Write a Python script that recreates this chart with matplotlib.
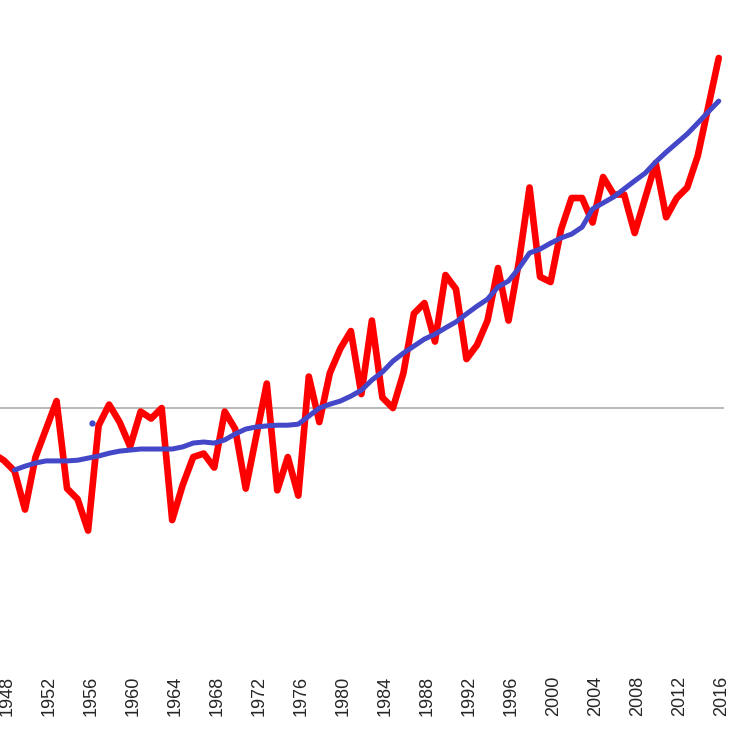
import matplotlib.pyplot as plt
import matplotlib.transforms as mtransforms

# annual values (red), deg C anomaly
years = list(range(1947, 2017))
annual = [
    -0.13, -0.15, -0.18, -0.29, -0.14, -0.06, 0.02, -0.23, -0.26, -0.35,
    -0.05, 0.01, -0.04, -0.11, -0.01, -0.03, 0.00, -0.32, -0.22, -0.14,
    -0.13, -0.17, -0.01, -0.06, -0.23, -0.08, 0.07, -0.235, -0.14, -0.25,
    0.09, -0.04, 0.10, 0.17, 0.22, 0.04, 0.25, 0.03, 0.00, 0.10,
    0.27, 0.30, 0.19, 0.38, 0.34, 0.14, 0.18, 0.25, 0.40, 0.25,
    0.42, 0.63, 0.375, 0.36, 0.51, 0.60, 0.60, 0.53, 0.66, 0.61,
    0.61, 0.50, 0.60, 0.70, 0.545, 0.60, 0.63, 0.72, 0.86, 1.00,
]

# smoothed trend (blue)
trend_years = list(range(1949, 2017))
trend = [
    -0.177, -0.166, -0.157, -0.151, -0.151, -0.151, -0.149, -0.143, -0.137, -0.129,
    -0.123, -0.120, -0.117, -0.117, -0.117, -0.117, -0.111, -0.100, -0.097, -0.100,
    -0.091, -0.074, -0.060, -0.054, -0.051, -0.049, -0.049, -0.046, -0.023, 0.000,
    0.011, 0.020, 0.034, 0.051, 0.080, 0.103, 0.134, 0.157, 0.177, 0.197,
    0.211, 0.229, 0.246, 0.269, 0.291, 0.311, 0.346, 0.363, 0.400, 0.443,
    0.454, 0.471, 0.486, 0.497, 0.517, 0.569, 0.586, 0.603, 0.626, 0.649,
    0.671, 0.703, 0.731, 0.757, 0.783, 0.814, 0.846, 0.877,
]

# stray blue point near 1956
stray_year = [1956.4]
stray_val = [-0.043]

tick_years = list(range(1948, 2017, 4))

fig = plt.figure(figsize=(7.45, 7.37), dpi=100)
ax = fig.add_axes([0, 72 / 737, 724 / 745, 635 / 737])

ax.axhline(0, color='#a6a6a6', lw=1.1, zorder=1)
ax.plot(years, annual, color='#ff0000', lw=4.8,
        solid_joinstyle='round', solid_capstyle='round', zorder=2)
ax.plot(trend_years, trend, color='#4347c8', lw=3.6,
        solid_joinstyle='round', solid_capstyle='round', zorder=3)
ax.plot(stray_year, stray_val, 'o', color='#4347c8', ms=3.5, zorder=3)

ax.set_xlim(1947.62, 2016.5)
ax.set_ylim(-0.734, 1.08)

ax.set_xticks(tick_years)
ax.set_xticklabels([str(y) for y in tick_years], rotation=90,
                   fontsize=13, family='Liberation Sans', color='#262626')
ax.tick_params(axis='x', length=0, pad=8)
# labels sit a few pixels right of the points, like the original
shift = mtransforms.ScaledTranslation(3 / 100, 0, fig.dpi_scale_trans)
for lbl in ax.get_xticklabels():
    lbl.set_transform(lbl.get_transform() + shift)
ax.set_yticks([])
for s in ax.spines.values():
    s.set_visible(False)

fig.savefig('out.png', dpi=100)
